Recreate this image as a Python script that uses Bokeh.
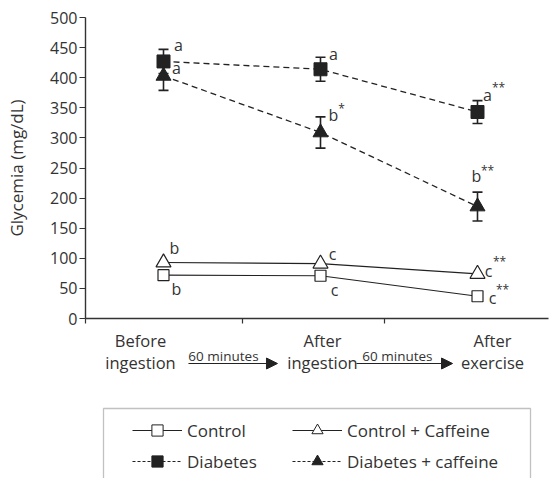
from bokeh.plotting import figure
from bokeh.layouts import column
from bokeh.models import (ColumnDataSource, Whisker, TeeHead, Label, Arrow, NormalHead,
                          Legend, LegendItem, FixedTicker, BoxAnnotation, Range1d)
from bokeh.core.properties import value
from bokeh.embed import file_html
from bokeh.resources import INLINE

# ---------------- data ----------------
stages = ["Before\ningestion", "After\ningestion", "After\nexercise"]
stage_x = [0, 1, 2]

control = [72, 71, 37]
control_caff = [93, 91, 74]
diabetes = [427, 414, 343]
diabetes_err = [20, 20, 19]
diabetes_caff = [403, 309, 186]
diabetes_caff_err = [24, 26, 24]

control_letters = ["b", "c", "c"]
control_stars = ["", "", "**"]
control_caff_letters = ["b", "c", "c"]
control_caff_stars = ["", "", "**"]
diabetes_letters = ["a", "a", "a"]
diabetes_stars = ["", "", "**"]
diabetes_caff_letters = ["a", "b", "b"]
diabetes_caff_stars = ["", "*", "**"]

y_ticks = list(range(0, 501, 50))
y_title = "Glycemia (mg/dL)"
interval_label = "60 minutes"
legend_labels = ["Control", "Control + Caffeine", "Diabetes", "Diabetes + caffeine"]

# ---------------- layout / style ----------------
W, H = 549, 478
BL, BR, BT = 85, 1, 17
FH = 301
BB1 = 12
H1 = BT + FH + BB1
H2 = H - H1
FW = W - BL - BR
PXX = 157.0                  # px per stage
x_start = -78.0 / PXX
x_end = x_start + FW / PXX
FONT = "Open Sans"
INK = "#222222"
TXT = "#333333"


def dx(px):
    return px / PXX


xr = Range1d(x_start, x_end)

p = figure(width=W, height=H1, output_backend="svg", toolbar_location=None,
           x_range=xr, y_range=Range1d(0, 500),
           min_border_left=BL, min_border_right=BR, min_border_top=BT, min_border_bottom=BB1)
p.outline_line_color = None
p.grid.visible = False

# axes
p.yaxis.ticker = FixedTicker(ticks=y_ticks)
p.yaxis.major_tick_out = 6
p.yaxis.major_tick_in = 0
p.yaxis.minor_tick_line_color = None
p.yaxis.major_label_standoff = 2
p.yaxis.major_label_text_font = FONT
p.yaxis.major_label_text_font_size = "16px"
p.yaxis.major_label_text_color = TXT
p.yaxis.axis_label = y_title
p.yaxis.axis_label_text_font = FONT
p.yaxis.axis_label_text_font_size = "17px"
p.yaxis.axis_label_text_font_style = "normal"
p.yaxis.axis_label_text_color = TXT
p.yaxis.axis_label_standoff = 19

x_ticks = [x_start + 0.001, 0.5, 1.41]
p.xaxis.ticker = FixedTicker(ticks=x_ticks)
p.xaxis.major_label_overrides = {t: " " for t in x_ticks}
p.xaxis.major_label_text_font_size = "1px"
p.xaxis.major_label_standoff = 0
p.xaxis.major_tick_out = 5
p.xaxis.major_tick_in = 0
p.xaxis.minor_tick_line_color = None
for ax in (p.xaxis[0], p.yaxis[0]):
    ax.axis_line_color = "#333333"
    ax.axis_line_width = 1.4
    ax.major_tick_line_color = "#333333"
    ax.major_tick_line_width = 1.2

# lines
p.line(stage_x, control, line_color=INK, line_width=1.2)
p.line(stage_x, control_caff, line_color=INK, line_width=1.2)
p.line(stage_x, diabetes, line_color=INK, line_width=1.3, line_dash="6 4")
p.line(stage_x, diabetes_caff, line_color=INK, line_width=1.3, line_dash="6 4")

# error bars
for vals, errs in ((diabetes, diabetes_err), (diabetes_caff, diabetes_caff_err)):
    src = ColumnDataSource(dict(x=stage_x,
                                upper=[v + e for v, e in zip(vals, errs)],
                                lower=[v - e for v, e in zip(vals, errs)]))
    p.add_layout(Whisker(base="x", upper="upper", lower="lower", source=src,
                         line_color=INK, line_width=1.6,
                         upper_head=TeeHead(size=10, line_color=INK, line_width=1.6),
                         lower_head=TeeHead(size=10, line_color=INK, line_width=1.6)))

# markers
p.scatter(stage_x, diabetes_caff, marker="triangle", size=15, fill_color=INK, line_color=INK)
p.scatter(stage_x, diabetes, marker="square", size=13, fill_color=INK, line_color=INK)
p.scatter(stage_x, control_caff, marker="triangle", size=15,
          fill_color="white", line_color=INK, line_width=1.2)
p.scatter(stage_x, control, marker="square", size=11,
          fill_color="white", line_color=INK, line_width=1.2)

# significance letters (offsets in px)
letter_sets = [
    (control, control_letters, control_stars, [13, 14, 15], [14, 14, 2], [10, 10, 10], [-9, -9, -9]),
    (control_caff, control_caff_letters, control_caff_stars, [11, 12, 11], [-15, -10, -3], [11, 11, 11], [-9, -9, -9]),
    (diabetes, diabetes_letters, diabetes_stars, [15, 13, 10], [-16, -15, -17], [11, 11, 11], [-8, -8, -8]),
    (diabetes_caff, diabetes_caff_letters, diabetes_caff_stars, [13, 13, -1], [-8, -17, -31], [8, 8, 11], [-7, -7, -5]),
]
for vals, letters, stars, lx, ly, sx, sy in letter_sets:
    p.text(x=stage_x, y=vals, text=letters, x_offset=lx, y_offset=ly,
           text_font=value(FONT), text_font_size="16px", text_color=TXT,
           text_align="center", text_baseline="middle")
    keep = [i for i, s in enumerate(stars) if s]
    p.text(x=[stage_x[i] for i in keep], y=[vals[i] for i in keep],
           text=[stars[i] for i in keep],
           x_offset=[lx[i] + sx[i] for i in keep], y_offset=[ly[i] + sy[i] for i in keep],
           text_font=value(FONT), text_font_size="12px", text_color=TXT,
           text_align="center", text_baseline="middle")

# ---------------- lower panel: stage labels, arrows, legend ----------------
# y units of this panel = pixels below the x axis line
p2 = figure(width=W, height=H2, output_backend="svg", toolbar_location=None,
            x_range=xr, y_range=Range1d(-(BB1 + H2), -BB1),
            x_axis_type=None, y_axis_type=None,
            min_border_left=BL, min_border_right=BR, min_border_top=0, min_border_bottom=0)
p2.outline_line_color = None
p2.grid.visible = False

cat_dx = [-23, 2, 15]
for xi, name, off in zip(stage_x, stages, cat_dx):
    for k, line in enumerate(name.split("\n")):
        p2.add_layout(Label(x=xi, y=-22 - 22 * k, x_offset=off, text=line,
                            text_font=FONT, text_font_size="16.5px", text_color=TXT,
                            text_align="center", text_baseline="middle"))

arrow_spans = [(0.159, 0.726, 0.382), (1.229, 1.841, 1.49)]
for x0, x1, xt in arrow_spans:
    p2.add_layout(Arrow(x_start=x0, x_end=x1, y_start=-45, y_end=-45,
                        line_color=INK, line_width=1.2,
                        end=NormalHead(size=11, fill_color=INK, line_color=INK)))
    p2.add_layout(Label(x=xt, y=-37, text=interval_label,
                        text_font=FONT, text_font_size="13.5px", text_color=TXT,
                        text_align="center", text_baseline="alphabetic"))

p2.add_layout(BoxAnnotation(left=x_start + dx(18), right=x_start + dx(445),
                            top=-90, bottom=-185,
                            fill_alpha=0, line_color="#333333", line_width=1.3))

# legend glyphs: series drawn in this panel fall outside its y range (not visible),
# they only supply the legend symbols
lg_c = [p2.line(stage_x, control, line_color=INK, line_width=1.2),
        p2.scatter(stage_x, control, marker="square", size=11, fill_color="white", line_color=INK)]
lg_cc = [p2.line(stage_x, control_caff, line_color=INK, line_width=1.2),
         p2.scatter(stage_x, control_caff, marker="triangle", size=11, fill_color="white", line_color=INK)]
lg_d = [p2.line(stage_x, diabetes, line_color=INK, line_width=1.2, line_dash="3 2"),
        p2.scatter(stage_x, diabetes, marker="square", size=11, fill_color=INK, line_color=INK)]
lg_dc = [p2.line(stage_x, diabetes_caff, line_color=INK, line_width=1.2, line_dash="3 2"),
         p2.scatter(stage_x, diabetes_caff, marker="triangle", size=11, fill_color=INK, line_color=INK)]

legend = Legend(items=[
    LegendItem(label=legend_labels[0], renderers=lg_c),
    LegendItem(label=legend_labels[1], renderers=lg_cc),
    LegendItem(label=legend_labels[2], renderers=lg_d),
    LegendItem(label=legend_labels[3], renderers=lg_dc),
], location=(47, 3), orientation="horizontal", ncols=2,
    glyph_width=50, glyph_height=28, label_height=28, label_width=102,
    label_standoff=5, spacing=3, padding=0, margin=0,
    border_line_color=None, background_fill_alpha=0,
    label_text_font=FONT, label_text_font_size="17px", label_text_color=TXT)
p2.add_layout(legend, "center")

layout = column(p, p2, spacing=0)
open("out.html", "w").write(file_html(layout, INLINE))
